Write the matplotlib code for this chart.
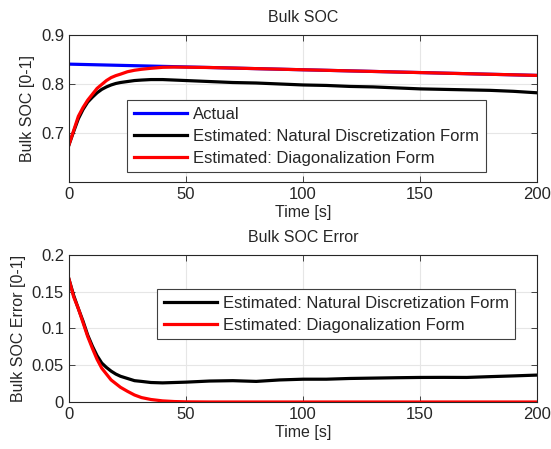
import matplotlib
matplotlib.use("Agg")
import matplotlib.pyplot as plt

plt.rcParams["font.family"] = ["Liberation Sans", "DejaVu Sans"]

# Tempo [s]
t = [0, 2, 4, 6, 8, 10, 12, 14, 16, 18, 20, 22, 25, 28, 31, 35, 40, 45, 50,
     60, 70, 80, 90, 100, 110, 120, 130, 140, 150, 160, 170, 180, 190, 200]

# SOC real (linha reta)
t_actual = [0, 50, 100, 150, 200]
soc_actual = [0.8405, 0.8348, 0.8290, 0.8233, 0.8175]

# SOC estimado - forma de discretizacao natural
soc_natural = [0.676, 0.703, 0.729, 0.748, 0.763, 0.773, 0.782, 0.789, 0.794, 0.798,
               0.801, 0.803, 0.805, 0.807, 0.808, 0.809, 0.809, 0.808, 0.807,
               0.805, 0.803, 0.802, 0.800, 0.798, 0.797, 0.795, 0.794, 0.792, 0.790,
               0.789, 0.788, 0.787, 0.785, 0.782]

# SOC estimado - forma diagonalizada
soc_diag = [0.676, 0.705, 0.734, 0.752, 0.767, 0.779, 0.791, 0.799, 0.807, 0.813,
            0.817, 0.820, 0.825, 0.828, 0.830, 0.832, 0.834, 0.8345, 0.8342,
            0.8336, 0.8325, 0.8313, 0.8302, 0.8290, 0.8279, 0.8267, 0.8256, 0.8244, 0.8233,
            0.8221, 0.8210, 0.8198, 0.8187, 0.8175]

# Erros
err_natural = [0.167, 0.145, 0.127, 0.110, 0.091, 0.076, 0.063, 0.053, 0.047, 0.042,
               0.038, 0.035, 0.032, 0.029, 0.028, 0.0265, 0.026, 0.0265, 0.027,
               0.0285, 0.029, 0.028, 0.030, 0.031, 0.031, 0.032, 0.0325, 0.033, 0.0334,
               0.0335, 0.0334, 0.0345, 0.0355, 0.0366]
err_diag = [0.167, 0.143, 0.127, 0.108, 0.089, 0.073, 0.058, 0.046, 0.038, 0.030,
            0.025, 0.020, 0.0145, 0.0095, 0.006, 0.0034, 0.0015, 0.0006, 0.0002,
            0, 0, 0, 0, 0, 0, 0, 0, 0, 0, 0, 0, 0, 0, 0]

lbl_actual = "Actual"
lbl_nat = "Estimated: Natural Discretization Form"
lbl_diag = "Estimated: Diagonalization Form"

txt = "#262626"
edge = "#262626"


def estilo(ax):
    ax.grid(True, color="#e6e6e6", linewidth=0.8)
    ax.set_axisbelow(True)
    ax.tick_params(direction="in", top=True, right=True, labelsize=12,
                   colors=txt, length=4, width=0.6)
    for s in ax.spines.values():
        s.set_color(edge)
        s.set_linewidth(0.8)


def legenda(ax, anchor):
    leg = ax.legend(loc="upper left", bbox_to_anchor=anchor, borderaxespad=0,
                    fontsize=12, fancybox=False, framealpha=1, edgecolor="#404040",
                    handlelength=3.2, handletextpad=0.35, labelspacing=0.42,
                    borderpad=0.4)
    leg.get_frame().set_linewidth(0.8)
    for tx in leg.get_texts():
        tx.set_color(txt)
    return leg


fig = plt.figure(figsize=(5.51, 4.49), dpi=100)
ax1 = fig.add_axes([0.1252, 0.5947, 0.8494, 0.3274])
ax2 = fig.add_axes([0.1252, 0.1047, 0.8494, 0.3274])

lw = 2.3
ax1.plot(t_actual, soc_actual, color="#0000ff", lw=lw, label=lbl_actual)
ax1.plot(t, soc_natural, color="black", lw=lw, label=lbl_nat)
ax1.plot(t, soc_diag, color="#ff0000", lw=lw, label=lbl_diag)
ax1.set_xlim(0, 200)
ax1.set_ylim(0.6, 0.9)
ax1.set_yticks([0.7, 0.8, 0.9])
ax1.set_xticks([0, 50, 100, 150, 200])
ax1.set_title("Bulk SOC", fontsize=11.5, color=txt, pad=9)
ax1.set_xlabel("Time [s]", fontsize=11.5, color=txt, labelpad=2)
ax1.set_ylabel("Bulk SOC [0-1]", fontsize=11.5, color=txt, labelpad=4)
estilo(ax1)
legenda(ax1, (0.124, 0.558))

ax2.plot(t, err_natural, color="black", lw=lw, label=lbl_nat)
ax2.plot(t, err_diag, color="#ff0000", lw=lw, label=lbl_diag)
ax2.set_xlim(0, 200)
ax2.set_ylim(0, 0.2)
ax2.set_yticks([0, 0.05, 0.1, 0.15, 0.2])
ax2.set_yticklabels(["0", "0.05", "0.1", "0.15", "0.2"])
ax2.set_xticks([0, 50, 100, 150, 200])
ax2.set_title("Bulk SOC Error", fontsize=11.5, color=txt, pad=9)
ax2.set_xlabel("Time [s]", fontsize=11.5, color=txt, labelpad=2)
ax2.set_ylabel("Bulk SOC Error [0-1]", fontsize=11.5, color=txt, labelpad=4)
estilo(ax2)
legenda(ax2, (0.188, 0.769))

fig.savefig("out.png", dpi=100)
